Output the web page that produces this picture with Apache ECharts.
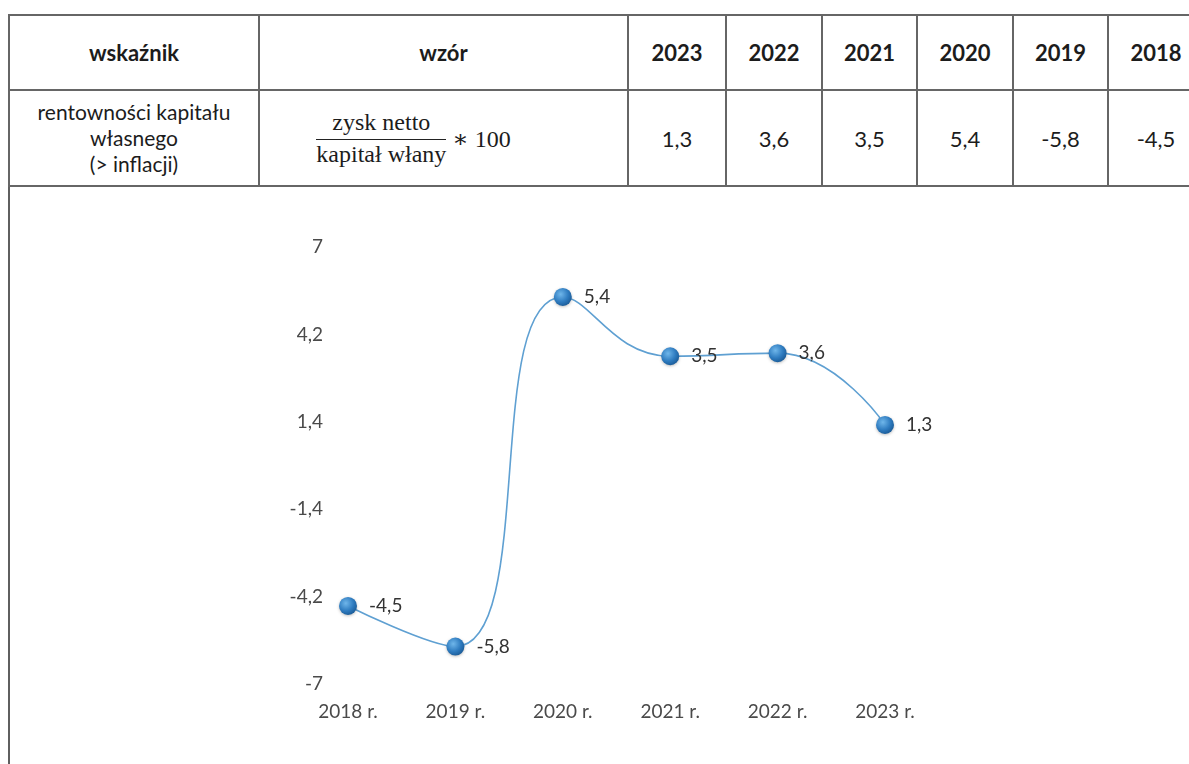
<!DOCTYPE html>
<html lang="pl">
<head>
<meta charset="utf-8">
<title>rentowność kapitału własnego</title>
<script src="https://cdn.jsdelivr.net/npm/echarts@6/dist/echarts.min.js"></script>
<style>
  html, body {
    margin: 0;
    padding: 0;
    width: 1189px;
    height: 764px;
    overflow: hidden;
    background: #fff;
    font-family: Lato, 'Open Sans', sans-serif;
    color: #1c1c1c;
  }
  /* ramka wokół całości, tabela na górze */
  .frame {
    position: absolute;
    left: 8px;
    top: 14px;
    width: 1300px;
    height: 760px;
    border-left: 2px solid #5f5f5f;
    border-bottom: 2px solid #d8d8d8;
  }
  table {
    position: absolute;
    left: 8px;
    top: 14px;
    width: 1195px;
    border-collapse: collapse;
    table-layout: fixed;
  }
  td, th {
    border: 2px solid #666;
    text-align: center;
    padding: 0;
  }
  th {
    height: 73px;
    font-size: 22px;
    font-weight: 700;
  }
  td {
    height: 94px;
    font-size: 22px;
  }
  td.name {
    font-size: 21px;
    line-height: 26px;
  }
  .formula {
    font-family: 'Liberation Serif', 'DejaVu Serif', serif;
    font-size: 24px;
    display: inline-flex;
    align-items: center;
    margin-right: 60px;
  }
  .frac {
    display: inline-block;
    text-align: center;
    margin-right: 6px;
  }
  .frac .num {
    display: block;
    padding: 0 2px 3px;
    border-bottom: 1.5px solid #222;
  }
  .frac .den {
    display: block;
    padding-top: 1px;
  }
  #chart {
    position: absolute;
    left: 0;
    top: 185px;
    width: 1189px;
    height: 579px;
  }
</style>
</head>
<body>
<div class="frame"></div>
<table>
  <colgroup>
    <col style="width:250px">
    <col style="width:369px">
    <col style="width:98px">
    <col style="width:96px">
    <col style="width:95px">
    <col style="width:96px">
    <col style="width:95px">
    <col style="width:96px">
  </colgroup>
  <tr id="headRow">
    <th>wskaźnik</th>
    <th>wzór</th>
  </tr>
  <tr id="valueRow">
    <td class="name">rentowności kapitału<br>własnego<br>(&gt; inflacji)</td>
    <td>
      <span class="formula">
        <span class="frac"><span class="num">zysk netto</span><span class="den">kapitał włany</span></span>
        ∗ 100
      </span>
    </td>
  </tr>
</table>
<div id="chart"></div>

<script>
// lata i wartości wskaźnika (tabela idzie od 2023 w dół, wykres od 2018 w górę)
const years = ['2018', '2019', '2020', '2021', '2022', '2023']
const values = [-4.5, -5.8, 5.4, 3.5, 3.6, 1.3]
const categories = ['2018 r.', '2019 r.', '2020 r.', '2021 r.', '2022 r.', '2023 r.']
// podziałka osi y
const yTicks = [-7, -4.2, -1.4, 1.4, 4.2, 7]

// liczby z przecinkiem jak w oryginale
function fmt(v) {
  return String(Math.round(v * 10) / 10).replace('.', ',')
}

// kolumny tabeli - odwrócona kolejność lat
function fillTable() {
  const head = document.getElementById('headRow')
  const row = document.getElementById('valueRow')
  for (let i = years.length - 1; i >= 0; i--) {
    const th = document.createElement('th')
    th.textContent = years[i]
    head.appendChild(th)
    const td = document.createElement('td')
    td.textContent = fmt(values[i])
    row.appendChild(td)
  }
}

function initChart() {
  const chart = echarts.init(document.getElementById('chart'))
  const labelFont = 'Lato, "Open Sans", sans-serif'
  const option = {
    animation: false,
    grid: {
      left: 348,
      right: 304,
      top: 62,
      bottom: 80
    },
    xAxis: {
      type: 'category',
      data: categories,
      boundaryGap: false,
      axisLine: { show: false },
      axisTick: { show: false },
      splitLine: { show: false },
      axisLabel: {
        margin: 18,
        color: '#4a4a4a',
        fontSize: 19,
        fontFamily: labelFont
      }
    },
    yAxis: {
      type: 'value',
      min: yTicks[0],
      max: yTicks[yTicks.length - 1],
      interval: yTicks[1] - yTicks[0],
      axisLine: { show: false },
      axisTick: { show: false },
      splitLine: { show: false },
      axisLabel: {
        margin: 25,
        color: '#4a4a4a',
        fontSize: 19,
        fontFamily: labelFont,
        formatter: fmt
      }
    },
    series: [
      {
        type: 'line',
        data: values,
        smooth: 0.5,
        symbol: 'circle',
        symbolSize: 18,
        lineStyle: {
          color: '#5fa0d2',
          width: 1.6
        },
        itemStyle: {
          // kulki z gradientem
          color: {
            type: 'radial',
            x: 0.38,
            y: 0.35,
            r: 0.7,
            colorStops: [
              { offset: 0, color: '#6fb6ea' },
              { offset: 0.6, color: '#2f7cc0' },
              { offset: 1, color: '#1a5a96' }
            ]
          },
          shadowColor: 'rgba(0,0,0,0.25)',
          shadowBlur: 3,
          shadowOffsetY: 1
        },
        label: {
          show: true,
          position: 'right',
          distance: 12,
          color: '#333',
          fontSize: 19,
          fontFamily: labelFont,
          formatter: (p) => fmt(p.value)
        }
      }
    ]
  }
  chart.setOption(option)
}

fillTable()
initChart()
</script>
</body>
</html>
